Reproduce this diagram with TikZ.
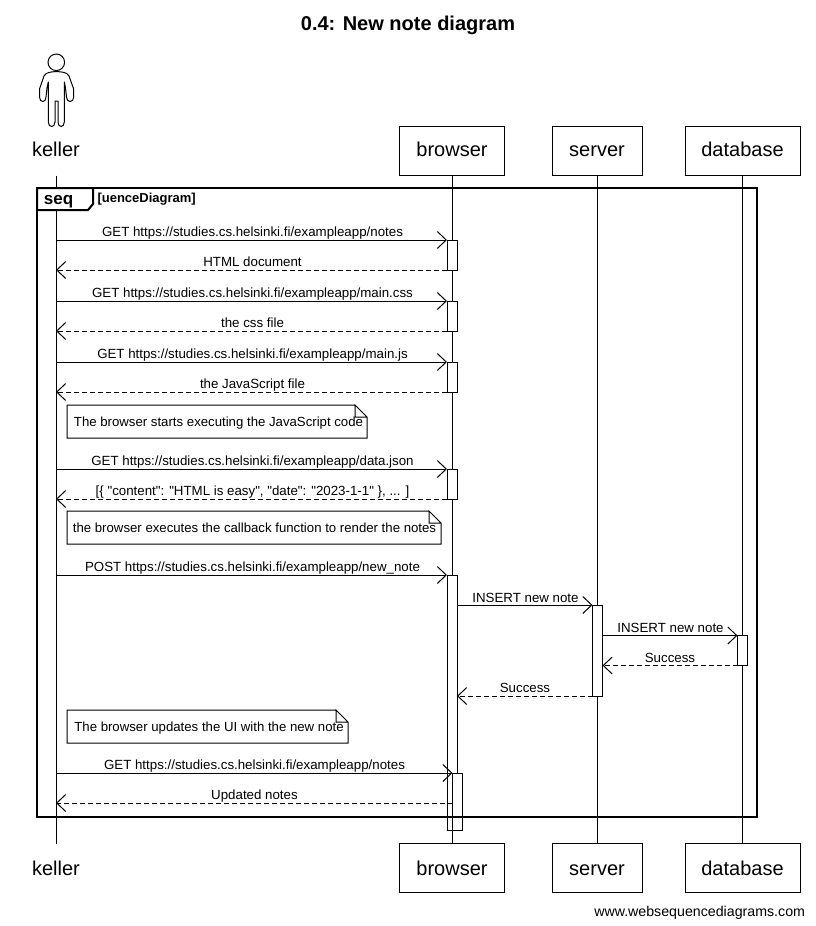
\documentclass[tikz,border=0pt]{standalone}
\usepackage{fontspec}
\setmainfont{Liberation Sans}[Ligatures=TeXOff]
\usetikzlibrary{arrows.meta}

\begin{document}
\begin{tikzpicture}[x=1pt,y=-1pt,line width=1pt,>={Straight Barb[length=9pt,width=17pt]},
  head/.style={minimum height=49pt,inner sep=0pt,outer sep=0pt,text height=15pt,text depth=4pt,font=\fontsize{20}{24}\selectfont},
  foot/.style={head,text height=17pt,text depth=3pt},
  headbox/.style={head,draw,fill=white},
  footbox/.style={foot,draw,fill=white},
  actbar/.style={draw,fill=white,minimum width=10pt,inner sep=0pt,outer sep=0pt},
  msg/.style={->},
  reply/.style={->,dash pattern=on 5pt off 3pt},
  msglabel/.style={anchor=base,inner sep=0pt,font=\fontsize{13.3}{15}\selectfont},
  notebox/.style={anchor=north west,minimum height=33pt,inner sep=0pt,outer sep=0pt,fill=white,text height=12pt,text depth=3pt,font=\fontsize{13.2}{15}\selectfont}]
  \useasboundingbox (0,0) rectangle (815,926);
  \node[anchor=base,inner sep=0pt,font=\fontsize{20}{24}\selectfont\bfseries] (title) at (408,30) {0.4: New note diagram};
  % heads
  \node[head] (keller) at (56,151) {keller};
  \node[headbox,minimum width=105pt] (browser) at (452,151) {browser};
  \node[headbox,minimum width=90pt] (server) at (597,151) {server};
  \node[headbox,minimum width=115pt] (database) at (742.5,151) {database};
  \node[foot] (kellerb) at (56,868) {keller};
  \node[footbox,minimum width=105pt] (browserb) at (452,868) {browser};
  \node[footbox,minimum width=90pt] (serverb) at (597,868) {server};
  \node[footbox,minimum width=115pt] (databaseb) at (742.5,868) {database};
  \draw (keller.south) -- (kellerb.north);
  \draw (browser.south) -- (browserb.north);
  \draw (server.south) -- (serverb.north);
  \draw (database.south) -- (databaseb.north);
  % actor
  \draw (56.3,62.3) circle (8.3);
  \draw[line join=round] (56.3,71.5) .. controls (62,72) and (67,72) .. (69,76) -- (73.7,89) -- (73.7,97) .. controls (73.7,103) and (66.5,103) .. (66.5,97) -- (65.5,88) -- (64.3,82) -- (64.3,122) .. controls (64.3,128) and (58,128) .. (58,122) -- (58,101) -- (55,101) -- (55,122) .. controls (55,128) and (48.3,128) .. (48.3,122) -- (48.3,82) -- (47,88) -- (46,97) .. controls (46,103) and (39.5,103) .. (39.5,97) -- (39.5,89) -- (44,76) .. controls (46,72) and (51,72) .. (56.3,71.5);
  % bars
  \node[actbar,minimum height=30pt] (b1) at (452,255) {};
  \node[actbar,minimum height=30pt] (b2) at (452,316) {};
  \node[actbar,minimum height=30pt] (b3) at (452,377) {};
  \node[actbar,minimum height=30pt] (b4) at (452,484) {};
  \node[actbar,minimum height=255pt] (b5) at (452,702.5) {};
  \node[actbar,minimum height=57pt] (b6) at (457.5,801.5) {};
  \node[actbar,minimum height=91pt] (s1) at (597.5,650.5) {};
  \node[actbar,minimum height=30pt] (d1) at (742.5,650.5) {};
  % messages
  \draw[msg] (keller |- b1.north west) -- (b1.north west);
  \node[msglabel] (l1) at (252.5,236) {GET https://studies.cs.helsinki.fi/exampleapp/notes};
  \draw[reply] (b1.south west) -- (keller |- b1.south west);
  \node[msglabel] (l2) at (252.5,266) {HTML document};
  \draw[msg] (keller |- b2.north west) -- (b2.north west);
  \node[msglabel] (l3) at (252.5,297) {GET https://studies.cs.helsinki.fi/exampleapp/main.css};
  \draw[reply] (b2.south west) -- (keller |- b2.south west);
  \node[msglabel] (l4) at (252.5,327) {the css file};
  \draw[msg] (keller |- b3.north west) -- (b3.north west);
  \node[msglabel] (l5) at (252.5,358) {GET https://studies.cs.helsinki.fi/exampleapp/main.js};
  \draw[reply] (b3.south west) -- (keller |- b3.south west);
  \node[msglabel] (l6) at (252.5,388) {the JavaScript file};
  \draw[msg] (keller |- b4.north west) -- (b4.north west);
  \node[msglabel] (l7) at (252.5,465) {GET https://studies.cs.helsinki.fi/exampleapp/data.json};
  \draw[reply] (b4.south west) -- (keller |- b4.south west);
  \node[msglabel] (l8) at (252.5,495) {[\{ "content": "HTML is easy", "date": "2023-1-1" \}, ... ]};
  \draw[msg] (keller |- b5.north west) -- (b5.north west);
  \node[msglabel] (l9) at (252.5,571) {POST https://studies.cs.helsinki.fi/exampleapp/new\_note};
  \draw[msg] (b5.east |- s1.north) -- (s1.north west);
  \node[msglabel] (l10) at (525.5,602) {INSERT new note};
  \draw[msg] (s1.east |- d1.north) -- (d1.north west);
  \node[msglabel] (l11) at (670.5,632) {INSERT new note};
  \draw[reply] (d1.south west) -- (s1.east |- d1.south);
  \node[msglabel] (l12) at (670,662) {Success};
  \draw[reply] (s1.south west) -- (b5.east |- s1.south);
  \node[msglabel] (l13) at (525,692) {Success};
  \draw[msg] (keller |- b6.north west) -- (b6.north west);
  \node[msglabel] (l14) at (254.5,769) {GET https://studies.cs.helsinki.fi/exampleapp/notes};
  \coordinate (r15) at (452.5,803);
  \draw[reply] (r15) -- (keller |- r15);
  \node[msglabel] (l15) at (254.5,799) {Updated notes};
  % notes
  \node[notebox,minimum width=300pt] (n1) at (67,405) {\kern3pt The browser starts executing the JavaScript code};
  \draw ([xshift=-12pt]n1.north east) -- (n1.north west) -- (n1.south west) -- (n1.south east) -- ([yshift=-12pt]n1.north east) -- ([xshift=-12pt]n1.north east) -- ([xshift=-12pt,yshift=-12pt]n1.north east) -- ([yshift=-12pt]n1.north east);
  \node[notebox,minimum width=374pt] (n2) at (67,511) {\kern1pt the browser executes the callback function to render the notes};
  \draw ([xshift=-12pt]n2.north east) -- (n2.north west) -- (n2.south west) -- (n2.south east) -- ([yshift=-12pt]n2.north east) -- ([xshift=-12pt]n2.north east) -- ([xshift=-12pt,yshift=-12pt]n2.north east) -- ([yshift=-12pt]n2.north east);
  \node[notebox,minimum width=281pt] (n3) at (67,710) {\kern3pt The browser updates the UI with the new note};
  \draw ([xshift=-12pt]n3.north east) -- (n3.north west) -- (n3.south west) -- (n3.south east) -- ([yshift=-12pt]n3.north east) -- ([xshift=-12pt]n3.north east) -- ([xshift=-12pt,yshift=-12pt]n3.north east) -- ([yshift=-12pt]n3.north east);
  % frame
  \draw[line width=2pt] (37,188) rectangle (757,817);
  \draw[line width=2pt,fill=white] (37,188) -- (93,188) -- (93,204) -- (88,210) -- (37,210) -- cycle;
  \node[anchor=base,inner sep=0pt,font=\fontsize{17}{18}\selectfont\bfseries] (seq) at (58.5,204) {seq};
  \node[anchor=base west,inner sep=0pt,font=\fontsize{13}{14}\selectfont\bfseries] (frametitle) at (97,202) {[uenceDiagram]};
  \node[anchor=base east,inner sep=0pt,font=\fontsize{14.2}{17}\selectfont] (credit) at (805.5,916) {www.websequencediagrams.com};
\end{tikzpicture}
\end{document}
